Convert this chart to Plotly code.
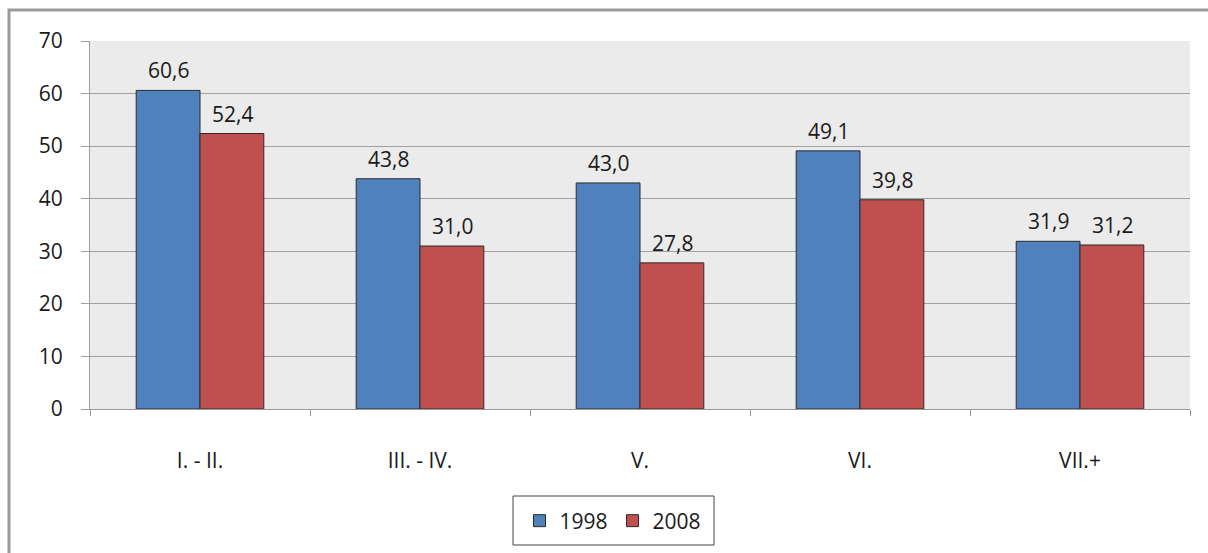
import plotly.graph_objects as go

categories = ["I. - II.", "III. - IV.", "V.", "VI.", "VII.+"]
series_names = ["1998", "2008"]
values_1998 = [60.6, 43.8, 43.0, 49.1, 31.9]
values_2008 = [52.4, 31.0, 27.8, 39.8, 31.2]
y_ticks = [0, 10, 20, 30, 40, 50, 60, 70]

colors = ["#4f81bd", "#c0504d"]
FONT = "Open Sans, Noto Sans, sans-serif"
FS = 21

W, H = 1208, 553
L, R, T, B = 90, 18, 41, 144

fig = go.Figure()
for name, vals, col in zip(series_names, [values_1998, values_2008], colors):
    fig.add_trace(go.Bar(
        x=categories, y=vals, name=name,
        marker=dict(color=col, line=dict(color="#2b2b2b", width=1)),
    ))

annotations = []
for k, vals in enumerate([values_1998, values_2008]):
    for c, v in zip(categories, vals):
        annotations.append(dict(
            x=c, y=v, xref="x", yref="y", text=f"{v:.1f}".replace(".", ","),
            showarrow=False, xshift=(-32 if k == 0 else 32), yshift=4,
            yanchor="bottom", font=dict(family=FONT, size=FS, color="#1a1a1a"),
        ))

pw = W - L - R
ph = H - T - B


def px_x(p):
    return (p - L) / pw


def px_y(p):
    return (H - B - p) / ph


fig.update_layout(
    width=W, height=H,
    margin=dict(l=L, r=R, t=T, b=B, pad=0),
    paper_bgcolor="white", plot_bgcolor="#ebebeb",
    barmode="group", bargap=0.42, bargroupgap=0,
    font=dict(family=FONT, size=FS, color="#1a1a1a"),
    separators=", ",
    annotations=annotations,
    showlegend=True,
    legend=dict(
        orientation="h", x=px_x(613), xanchor="center",
        y=px_y(521), yanchor="middle",
        borderwidth=0, bgcolor="rgba(0,0,0,0)",
        font=dict(family=FONT, size=FS, color="#1a1a1a"),
        itemwidth=30, tracegroupgap=0,
    ),
    shapes=[
        dict(type="rect", xref="paper", yref="paper",
             x0=px_x(9), x1=px_x(W + 10), y0=-1.0, y1=px_y(10),
             line=dict(color="#9a9a9a", width=3), layer="below"),
        dict(type="rect", xref="paper", yref="paper",
             x0=px_x(513), x1=px_x(714), y0=px_y(545), y1=px_y(496),
             line=dict(color="#444444", width=1), layer="below"),
    ],
)
fig.update_xaxes(
    showgrid=False, tickson="boundaries", ticks="outside", ticklen=6,
    tickcolor="#9a9a9a", showline=True, linecolor="#9a9a9a", linewidth=1,
    ticklabelstandoff=33, tickfont=dict(family=FONT, size=FS),
)
fig.update_yaxes(
    range=[0, 70], tickvals=y_ticks, showgrid=True, gridcolor="#a0a0a0",
    gridwidth=1, ticks="outside", ticklen=8, tickcolor="#a0a0a0",
    showline=True, linecolor="#a0a0a0", linewidth=1, zeroline=False,
    ticklabelstandoff=14, tickfont=dict(family=FONT, size=FS),
)

fig.write_html("out.html", post_script="document.body.style.margin='0';",
               config={"displayModeBar": False})
